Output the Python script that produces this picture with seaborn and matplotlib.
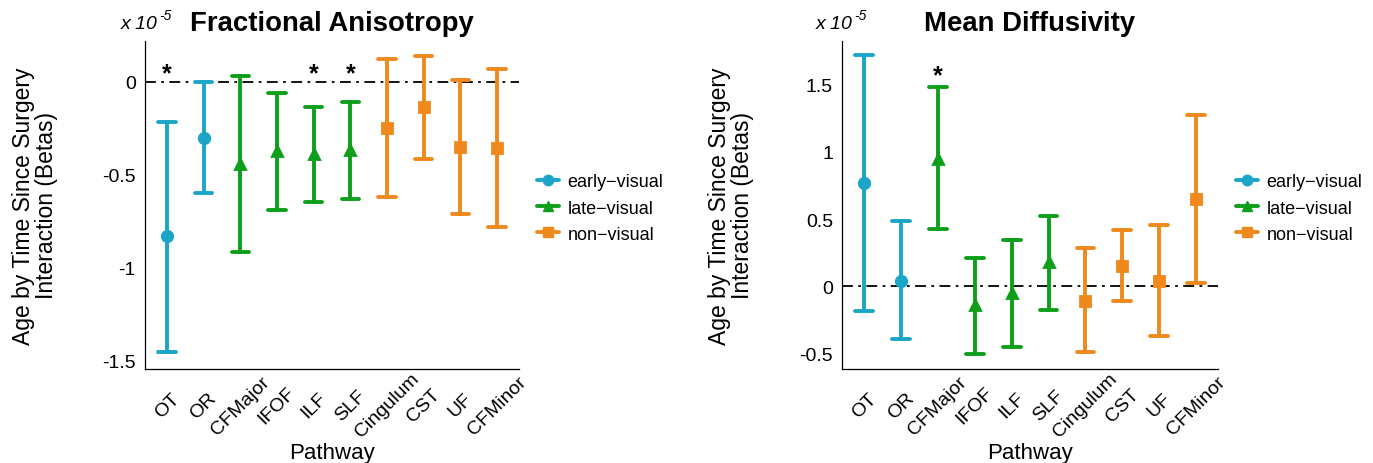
import numpy as np
import pandas as pd
import matplotlib
matplotlib.use("Agg")
import matplotlib.pyplot as plt
from matplotlib.lines import Line2D
import seaborn as sns

# ---------------------------------------------------------
# data (betas, x 10^-5)
# ---------------------------------------------------------
pathways = ["OT", "OR", "CFMajor", "IFOF", "ILF", "SLF", "Cingulum", "CST", "UF", "CFMinor"]
groups = ["early-visual", "early-visual", "late-visual", "late-visual", "late-visual",
          "late-visual", "non-visual", "non-visual", "non-visual", "non-visual"]
group_order = ["early-visual", "late-visual", "non-visual"]

fa_beta = [-0.83, -0.30, -0.44, -0.37, -0.385, -0.367, -0.25, -0.135, -0.352, -0.356]
fa_low = [-1.452, -0.598, -0.915, -0.687, -0.648, -0.630, -0.621, -0.416, -0.708, -0.779]
fa_high = [-0.214, 0.0, 0.032, -0.059, -0.135, -0.110, 0.121, 0.142, 0.011, 0.071]
fa_sig = [1, 0, 0, 0, 1, 1, 0, 0, 0, 0]

md_beta = [0.767, 0.042, 0.95, -0.139, -0.05, 0.178, -0.106, 0.153, 0.042, 0.649]
md_low = [-0.181, -0.391, 0.426, -0.502, -0.448, -0.173, -0.49, -0.111, -0.366, 0.025]
md_high = [1.718, 0.483, 1.485, 0.213, 0.347, 0.522, 0.282, 0.418, 0.453, 1.275]
md_sig = [0, 0, 1, 0, 0, 0, 0, 0, 0, 0]

palette = {"early-visual": "#1ba6c8", "late-visual": "#0e9f1a", "non-visual": "#f0891b"}
markers = ["o", "^", "s"]


def long_frame(beta, low, high):
    rows = []
    for p, g, b, lo, hi in zip(pathways, groups, beta, low, high):
        for v in (lo, b, hi):
            rows.append({"pathway": p, "group": g, "value": v})
    return pd.DataFrame(rows)


def draw_panel(ax, df, sig, star_y, ylim, yticks, yticklabels):
    ax.axhline(0, color="black", linewidth=1.3, linestyle=(0, (6, 3, 1.5, 3)), zorder=0)
    sns.pointplot(
        data=df, x="pathway", y="value", hue="group",
        order=pathways, hue_order=group_order, palette=palette,
        estimator="median", errorbar=lambda v: (v.min(), v.max()),
        markers=markers, linestyles="none", capsize=0.48,
        err_kws={"linewidth": 2.8}, markersize=7.5, legend=False, ax=ax,
    )
    for i, s in enumerate(sig):
        if s:
            ax.text(i, star_y, "*", ha="center", va="center", fontsize=18, fontweight="bold")
    ax.set_xlim(-0.6, len(pathways) - 0.4)
    ax.set_ylim(*ylim)
    ax.set_yticks(yticks)
    ax.set_yticklabels(yticklabels)
    sns.despine(ax=ax)
    for sp in ["left", "bottom"]:
        ax.spines[sp].set_linewidth(0.9)
        ax.spines[sp].set_color("black")
    ax.tick_params(axis="both", length=3, width=0.8, labelsize=14, colors="black")
    ax.tick_params(axis="x", pad=23)
    plt.setp(ax.get_xticklabels(), rotation=45, ha="center", va="center")
    ax.set_xlabel("Pathway", fontsize=16)
    ax.xaxis.set_label_coords(0.5, -0.255)
    ax.xaxis.label.set_va("center")
    ax.set_ylabel("Age by Time Since Surgery\nInteraction (Betas)", fontsize=16.5, linespacing=1.0)
    ax.yaxis.set_label_coords(-0.295, 0.5)
    ax.yaxis.label.set_va("center")


sns.set_style("white")
plt.rcParams["font.family"] = ["Liberation Sans", "DejaVu Sans"]
plt.rcParams["axes.unicode_minus"] = False
plt.rcParams["text.color"] = "black"
plt.rcParams["axes.labelcolor"] = "black"

fig = plt.figure(figsize=(13.73, 4.64), dpi=100)
ax1 = fig.add_axes([0.1056, 0.2026, 0.2724, 0.7069])
ax2 = fig.add_axes([0.6133, 0.2026, 0.2739, 0.7069])

draw_panel(ax1, long_frame(fa_beta, fa_low, fa_high), fa_sig, 0.045,
           (-1.543, 0.22), [-1.5, -1, -0.5, 0], ["-1.5", "-1", "-0.5", "0"])
draw_panel(ax2, long_frame(md_beta, md_low, md_high), md_sig, 1.57,
           (-0.614, 1.824), [-0.5, 0, 0.5, 1, 1.5], ["-0.5", "0", "0.5", "1", "1.5"])

fig.text(0.2418, 0.948, "Fractional Anisotropy", ha="center", va="center",
         fontsize=19.8, fontweight="bold")
fig.text(0.7502, 0.948, "Mean Diffusivity", ha="center", va="center",
         fontsize=19.8, fontweight="bold")

for x0 in (121 / 1373, 816 / 1373):
    t = fig.text(x0, 0.948, "x 10", ha="left", va="center", fontsize=14, style="italic")
    fig.canvas.draw()
    bb = t.get_window_extent()
    fig.text(bb.x1 / fig.bbox.width + 0.001, 0.965, "-5", ha="left", va="center",
             fontsize=10, style="italic")

handles = [Line2D([0], [0], color=palette[g], marker=m, markersize=7.5, linewidth=2.8)
           for g, m in zip(group_order, markers)]
labels = [g.replace("-", "\u2212") for g in group_order]
for ax, xa in ((ax1, 537 / 1373), (ax2, 1236 / 1373)):
    ax.legend(handles, labels, loc="center left", bbox_to_anchor=(xa, 1 - 209 / 464),
              bbox_transform=fig.transFigure, frameon=False, fontsize=13,
              handlelength=1.2, handletextpad=0.5, labelspacing=0.5, borderpad=0,
              borderaxespad=0)

fig.savefig("out.png", dpi=100)
